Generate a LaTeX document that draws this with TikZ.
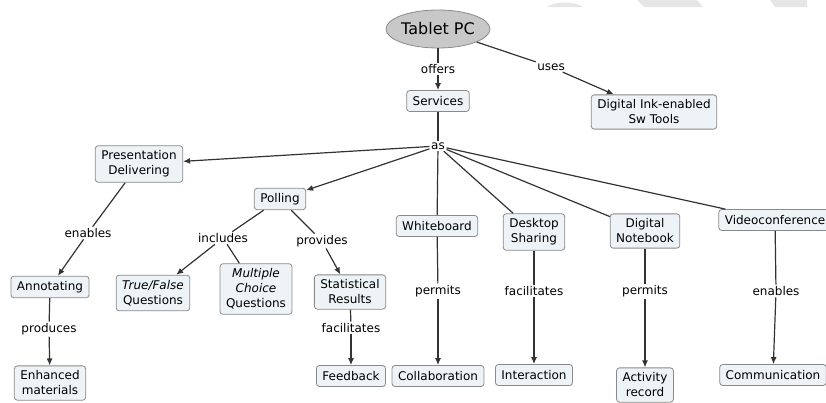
\documentclass[tikz,border=0pt]{standalone}
\usepackage{fontspec}
\setmainfont{DejaVu Sans}
\usetikzlibrary{arrows.meta,shapes.geometric}
\definecolor{boxfill}{HTML}{EDF3F6}
\definecolor{boxline}{HTML}{8A8A8A}
\definecolor{ovalfill}{HTML}{C8C8C8}
\definecolor{linkcol}{HTML}{333333}
\definecolor{faintgray}{HTML}{E6E6E6}

\begin{document}
\begin{tikzpicture}[x=1pt,y=-1pt,
    font=\fontsize{12}{15}\selectfont,
    concept/.style={draw=boxline, fill=boxfill, rounded corners=3pt, align=center,
        inner xsep=6pt, inner ysep=5pt, minimum height=21pt, line width=0.8pt},
    link/.style={inner sep=1.5pt},
    line/.style={draw=linkcol, line width=1.2pt},
    arr/.style={line, -{Latex[length=7pt,width=6pt]}}]
    \useasboundingbox (0,0) rectangle (826,402);
    \clip (0,0) rectangle (826,402);

    % faint marks along the top edge
    \fill[faintgray] (547,7) .. controls (555,1) and (575,1) .. (583,7) -- cycle;
    \fill[faintgray] (637,0) -- (697,0) -- (703,7) -- (644,7) -- cycle;
    \fill[faintgray] (770,0) -- (807,0) -- (807,7) -- (775,7) -- cycle;

    % top of the map
    \node[ellipse, draw=boxline, fill=ovalfill, line width=0.8pt, minimum width=96pt,
        minimum height=38pt, inner sep=0pt, font=\fontsize{16}{18}\selectfont] (tablet) at (438,29) {Tablet PC};
    \node[link] (offers) at (438,69) {offers};
    \node[concept] (services) at (438,101) {Services};
    \node[link] (uses) at (551,67) {uses};
    \node[concept] (inktools) at (654,112) {Digital Ink-enabled\\Sw Tools};
    \node[link] (as) at (438,146) {as};

    \draw[line] (tablet) -- (offers);
    \draw[arr] (offers) -- (services);
    \draw[line] (tablet) -- (uses);
    \draw[arr] (uses) -- (inktools);
    \draw[line] (services) -- (as);

    % services
    \node[concept] (present) at (139,164) {Presentation\\Delivering};
    \node[concept] (polling) at (280,199) {Polling};
    \node[concept] (whiteb) at (437,226) {Whiteboard};
    \node[concept] (desktop) at (534,232) {Desktop\\Sharing};
    \node[concept] (notebook) at (645,231) {Digital\\Notebook};
    \node[concept] (videoc) at (775,220) {Videoconference};

    \draw[arr] (as) -- (present);
    \draw[arr] (as) -- (polling);
    \draw[line] (as) -- (whiteb);
    \draw[line] (as) -- (desktop);
    \draw[line] (as) -- (notebook);
    \draw[line] (as) -- (videoc);

    % presentation branch
    \node[link] (enables1) at (88,233) {enables};
    \node[concept] (annot) at (50,287) {Annotating};
    \node[link] (produces) at (49,329) {produces};
    \node[concept] (enhanced) at (50,383) {Enhanced\\materials};
    \draw[line] (present) -- (enables1);
    \draw[arr] (enables1) -- (annot);
    \draw[line] (annot) -- (produces);
    \draw[arr] (produces) -- (enhanced);

    % polling branch
    \node[link] (includes) at (223,238) {includes};
    \node[link] (provides) at (322,241) {provides};
    \node[concept] (truefalse) at (153,293) {\textit{True/False}\\Questions};
    \node[concept] (multiple) at (256,289) {\textit{Multiple}\\\textit{Choice}\\Questions};
    \node[concept] (stats) at (350,292) {Statistical\\Results};
    \node[link] (facil1) at (351,328) {facilitates};
    \node[concept] (feedback) at (351,376) {Feedback};
    \draw[line] (polling) -- (includes);
    \draw[arr] (includes) -- (truefalse);
    \draw[line] (includes) -- (multiple);
    \draw[line] (polling) -- (provides);
    \draw[arr] (provides) -- (stats);
    \draw[line] (stats) -- (facil1);
    \draw[arr] (facil1) -- (feedback);

    % the other services
    \node[link] (permits1) at (438,291) {permits};
    \node[concept] (collab) at (438,376) {Collaboration};
    \node[link] (facil2) at (534,291) {facilitates};
    \node[concept] (interact) at (534,375) {Interaction};
    \node[link] (permits2) at (645,291) {permits};
    \node[concept] (activity) at (645,385) {Activity\\record};
    \node[link] (enables2) at (776,291) {enables};
    \node[concept] (comm) at (773,375) {Communication};

    \draw[line] (whiteb) -- (permits1);
    \draw[arr] (permits1) -- (collab);
    \draw[line] (desktop) -- (facil2);
    \draw[arr] (facil2) -- (interact);
    \draw[line] (notebook) -- (permits2);
    \draw[arr] (permits2) -- (activity);
    \draw[line] (videoc) -- (enables2);
    \draw[arr] (enables2) -- (comm);
\end{tikzpicture}
\end{document}
